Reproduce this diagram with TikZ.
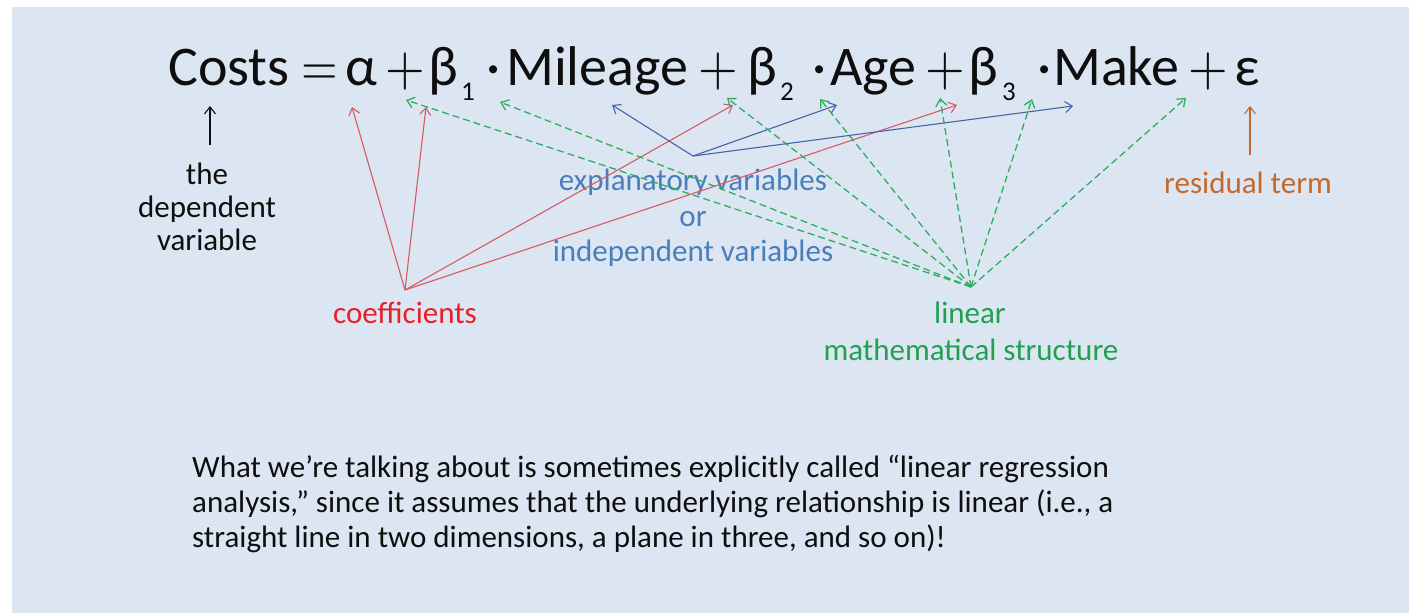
\documentclass[tikz,border=0pt]{standalone}
\usepackage{graphicx}
\usepackage{fontspec}
\setmainfont{Carlito}
\usetikzlibrary{arrows.meta}
\newcommand{\bigop}[2]{\scalebox{#1}[5.6]{\fontsize{10}{12}\selectfont$#2$}}
\definecolor{bg}{HTML}{DCE6F2}
\definecolor{txt}{HTML}{0E0E0E}
\definecolor{redtxt}{HTML}{E8202A}
\definecolor{redln}{HTML}{D65A64}
\definecolor{bluetxt}{HTML}{4A7EBB}
\definecolor{blueln}{HTML}{4463A8}
\definecolor{greentxt}{HTML}{20A050}
\definecolor{greenln}{HTML}{2EAE5E}
\definecolor{orangetxt}{HTML}{C5682C}
\begin{document}
\begin{tikzpicture}[x=1pt,y=-1pt,
  eq/.style={anchor=base west, inner sep=0pt, text=txt, font=\fontsize{56}{60}\selectfont},
  sub/.style={anchor=base west, inner sep=0pt, text=txt, font=\fontsize{27}{30}\selectfont},
  lbl/.style={anchor=base, inner sep=0pt, font=\fontsize{31}{33}\selectfont},
  para/.style={anchor=base west, inner sep=0pt, text=txt, font=\fontsize{31}{34}\selectfont},
  arr/.style={-{Straight Barb[length=7pt,width=11pt]}, line width=1.1pt},
  redarr/.style={arr, draw=redln},
  bluearr/.style={arr, draw=blueln},
  greenarr/.style={arr, draw=greenln, line width=1.3pt, dash pattern=on 7pt off 4pt},
]
\useasboundingbox (0,0) rectangle (1409,613);
\fill[white] (0,0) rectangle (1409,613);
\fill[bg] (12,7) rectangle (1409,613);

% equation
\node[eq] (costs) at (168,85) {Costs};
\node[eq] (equals) at (301,85) {\bigop{4.7}{=}};
\node[eq] (alpha) at (345,85) {α};
\node[eq] (plusA) at (385,85) {\bigop{5.1}{+}};
\node[eq] (beta1) at (428,85) {β};
\node[sub] (one) at (461,100) {1};
\node[eq] (dotA) at (486,85) {·};
\node[eq] (mileage) at (506,85) {Mileage};
\node[eq] (plusB) at (698,85) {\bigop{5.1}{+}};
\node[eq] (beta2) at (747,85) {β};
\node[sub] (two) at (780,100) {2};
\node[eq] (dotB) at (812,85) {·};
\node[eq] (age) at (830,85) {Age};
\node[eq] (plusC) at (925,85) {\bigop{5.1}{+}};
\node[eq] (beta3) at (968,85) {β};
\node[sub] (three) at (1002,100) {3};
\node[eq] (dotC) at (1037,85) {·};
\node[eq] (make) at (1053,85) {Make};
\node[eq] (plusD) at (1188,85) {\bigop{5.1}{+}};
\node[eq] (eps) at (1234,85) {ε};

% labels
\node[lbl, text=txt] (dep1) at (207,184) {the};
\node[lbl, text=txt] (dep2) at (207,217) {dependent};
\node[lbl, text=txt] (dep3) at (207,250) {variable};
\node[lbl, text=redtxt] (coef) at (405,323) {coefficients};
\node[lbl, text=bluetxt] (expl1) at (693,190) {explanatory variables};
\node[lbl, text=bluetxt] (expl2) at (693,226) {or};
\node[lbl, text=bluetxt] (expl3) at (693,261) {independent variables};
\node[lbl, text=greentxt] (lin1) at (970,323) {linear};
\node[lbl, text=greentxt] (lin2) at (971,360) {mathematical structure};
\node[lbl, text=orangetxt] (resid) at (1248,193) {residual term};

% paragraph
\node[para] (p1) at (192,477) {What we’re talking about is sometimes explicitly called “linear regression};
\node[para] (p2) at (192,512) {analysis,” since it assumes that the underlying relationship is linear (i.e., a};
\node[para] (p3) at (192,547) {straight line in two dimensions, a plane in three, and so on)!};

% coordinates
\coordinate (depTail) at (210,145);
\coordinate (depTip) at (210,106);
\coordinate (resTail) at (1250,155);
\coordinate (resTip) at (1250,106);
\coordinate (cO) at (405,290);
\coordinate (cT1) at (352,107);
\coordinate (cT2) at (426,107);
\coordinate (cT3) at (733,105);
\coordinate (cT4) at (957,105);
\coordinate (bO) at (693,156);
\coordinate (bT1) at (612,105);
\coordinate (bT2) at (837,105);
\coordinate (bT3) at (1073,106);
\coordinate (gO) at (971,287);
\coordinate (gT1) at (406,100);
\coordinate (gT2) at (500,102);
\coordinate (gT3) at (727,98);
\coordinate (gT4) at (820,99);
\coordinate (gT5) at (940,98);
\coordinate (gT6) at (1032,99);
\coordinate (gT7) at (1186,98);

% arrows
\draw[arr, draw=txt] (depTail) -- (depTip);
\draw[arr, draw=orangetxt] (resTail) -- (resTip);
\foreach \t in {cT1,cT2,cT3,cT4} \draw[redarr] (cO) -- (\t);
\foreach \t in {bT1,bT2,bT3} \draw[bluearr] (bO) -- (\t);
\foreach \t in {gT1,gT2,gT3,gT4,gT5,gT6,gT7} \draw[greenarr] (gO) -- (\t);
\end{tikzpicture}
\end{document}
